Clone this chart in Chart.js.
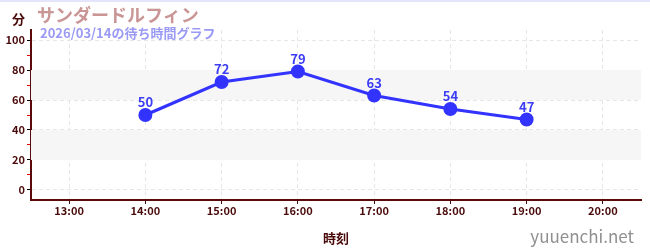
<!DOCTYPE html>
<html>
<head>
<meta charset="utf-8">
<script src="https://cdn.jsdelivr.net/npm/chart.js@4"></script>
<style>
    body { margin: 0; background: #fff; font-family: "Noto Sans CJK JP", sans-serif; }
    #wrap { position: relative; width: 650px; height: 250px; border-top: 2px solid #e4e4fa; box-sizing: border-box; }
    canvas { position: absolute; left: 0; top: 0; }
    .lbl { position: absolute; white-space: nowrap; font-weight: bold; }
    #unit { left: 12px; top: 7px; font-size: 13px; color: #4a0a0a; }
    #title { left: 37px; top: -1px; font-size: 18px; color: #c99595; }
    #subtitle { left: 40px; top: 21px; font-size: 13px; color: #9a9af5; }
    #site { right: 16px; top: 221px; font-size: 17px; color: #909090; font-weight: normal; }
</style>
</head>
<body>
<div id="wrap">
    <canvas id="waitChart" width="650" height="248"></canvas>
    <div class="lbl" id="unit">分</div>
    <div class="lbl" id="title">サンダードルフィン</div>
    <div class="lbl" id="subtitle">2026/03/14の待ち時間グラフ</div>
    <div class="lbl" id="site">yuuenchi.net</div>
</div>
<script>
const hours = ["13:00", "14:00", "15:00", "16:00", "17:00", "18:00", "19:00", "20:00"];
const waitTimes = [null, 50, 72, 79, 63, 54, 47, null];
const yTicks = [0, 10, 20, 30, 40, 50, 60, 70, 80, 90, 100];
const bands = [[20, 40], [60, 80]];

document.addEventListener("DOMContentLoaded", function () {
    const darkRed = "#4a0a0a";

    // grey bands behind the line
    const bandPlugin = {
        id: "bands",
        beforeDatasetsDraw(chart) {
            const { ctx, chartArea, scales } = chart;
            ctx.save();
            ctx.fillStyle = "#f6f6f6";
            bands.forEach(([lo, hi]) => {
                const y1 = scales.y.getPixelForValue(hi);
                const y2 = scales.y.getPixelForValue(lo);
                ctx.fillRect(chartArea.left, y1, chartArea.right - chartArea.left, y2 - y1);
            });
            ctx.restore();
        },
    };

    // value labels above points
    const valueLabels = {
        id: "valueLabels",
        afterDatasetsDraw(chart) {
            const { ctx } = chart;
            const meta = chart.getDatasetMeta(0);
            ctx.save();
            ctx.font = "bold 13px 'Noto Sans CJK JP'";
            ctx.fillStyle = "#3c3cf5";
            ctx.textAlign = "center";
            ctx.textBaseline = "bottom";
            meta.data.forEach((pt, i) => {
                if (waitTimes[i] == null) return;
                ctx.fillText(String(waitTimes[i]), pt.x, pt.y - 6);
            });
            ctx.restore();
        },
    };

    const tickFont = { size: 11, weight: "bold", family: "'Noto Sans CJK JP'" };

    const ctx = document.getElementById("waitChart").getContext("2d");
    new Chart(ctx, {
        type: "line",
        data: {
            labels: hours,
            datasets: [{
                data: waitTimes,
                borderColor: "#3333ff",
                backgroundColor: "#3333ff",
                borderWidth: 3,
                pointRadius: 5.5,
                pointHoverRadius: 5.5,
                spanGaps: false,
            }],
        },
        options: {
            responsive: false,
            animation: false,
            layout: { padding: { top: 28, right: 9, left: 0, bottom: 0 } },
            plugins: { legend: { display: false }, tooltip: { enabled: false } },
            scales: {
                x: {
                    offset: true,
                    afterFit(scale) { scale.height = 50; },
                    grid: {
                        color: "#e6e6e6",
                        tickColor: darkRed,
                        tickLength: 4,
                        offset: false,
                    },
                    border: { color: "#5a0a0a", width: 2, dash: [4, 3] },
                    ticks: { color: darkRed, font: tickFont, padding: 0 },
                    title: {
                        display: true,
                        text: "時刻",
                        color: darkRed,
                        font: { size: 13, weight: "bold", family: "'Noto Sans CJK JP'" },
                        padding: { top: 5 },
                    },
                },
                y: {
                    min: -6.7,
                    max: 106.7,
                    afterFit(scale) { scale.width = 31; },
                    afterBuildTicks(scale) { scale.ticks = yTicks.map((v) => ({ value: v })); },
                    grid: {
                        color: (c) => (c.tick && c.tick.value % 20 === 0 ? "#e6e6e6" : "transparent"),
                        tickColor: (c) => (c.tick && c.tick.value % 20 === 0 ? "#000" : "#e00000"),
                        tickLength: 4,
                    },
                    border: { color: "#5a0a0a", width: 2, dash: [4, 3] },
                    ticks: {
                        color: darkRed,
                        font: tickFont,
                        padding: 2,
                        callback: (v) => (v % 20 === 0 ? v : ""),
                    },
                },
            },
        },
        plugins: [bandPlugin, valueLabels],
    });
});
</script>
</body>
</html>
